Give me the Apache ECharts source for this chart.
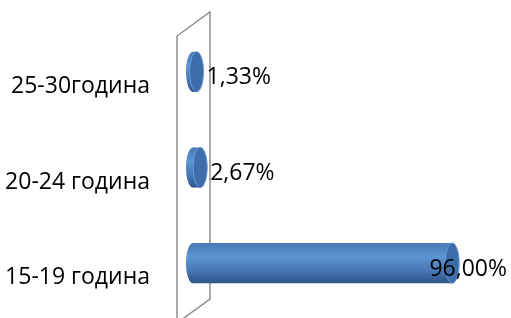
<!DOCTYPE html>
<html>
<head>
<meta charset="utf-8">
<script src="https://cdn.jsdelivr.net/npm/echarts@6/dist/echarts.min.js"></script>
<style>
    html, body { margin: 0; padding: 0; background: #fff; }
    #chart { width: 511px; height: 318px; }
</style>
</head>
<body>
<div id="chart"></div>
<script>
var categories = ['15-19 година', '20-24 година', '25-30година'];
var values = [96.00, 2.67, 1.33];

var FONT = '"Open Sans", "Liberation Sans", sans-serif';
var W = 511;

var measureCtx = document.createElement('canvas').getContext('2d');
function textWidth(str, size) {
    measureCtx.font = size + 'px ' + FONT;
    return measureCtx.measureText(str).width;
}

function fmt(v) {
    return v.toFixed(2).replace('.', ',') + '%';
}

//圆柱体
function renderItem(params, api) {
    var val = api.value(0);
    var cat = api.value(1);
    var p0 = api.coord([0, cat]);
    var p1 = api.coord([val, cat]);
    var h = api.size([0, 1])[1] * 0.42;
    var rx = 7, ry = h / 2;
    var cy = p0[1];

    var bodyFill = new echarts.graphic.LinearGradient(0, 0, 0, 1, [
        { offset: 0, color: '#4a79b6' },
        { offset: 0.35, color: '#5d94d4' },
        { offset: 0.7, color: '#4776b3' },
        { offset: 1, color: '#2c5385' }
    ]);

    var label = fmt(val);
    var tw = textWidth(label, 23);
    var lx = Math.min(p1[0] + rx + 3, W - tw - 4);

    return {
        type: 'group',
        children: [
            {
                type: 'ellipse',
                shape: { cx: p0[0], cy: cy, rx: rx, ry: ry },
                style: { fill: bodyFill }
            },
            {
                type: 'rect',
                shape: { x: p0[0], y: cy - ry, width: p1[0] - p0[0], height: h },
                style: { fill: bodyFill }
            },
            {
                type: 'ellipse',
                shape: { cx: p1[0], cy: cy, rx: rx, ry: ry },
                style: { fill: '#3e6dab', stroke: '#6b9bd6', lineWidth: 1 }
            },
            {
                type: 'text',
                x: lx,
                y: cy + 6,
                style: {
                    text: label,
                    font: '23px ' + FONT,
                    fill: '#000',
                    textAlign: 'left',
                    textVerticalAlign: 'middle'
                },
                z2: 10
            }
        ]
    };
}

var data = [];
for (var i = 0, len = values.length; i < len; i++) {
    data.push([values[i], i]);
}

var chart = echarts.init(document.getElementById('chart'));

var option = {
    animation: false,
    backgroundColor: '#fff',
    grid: { left: 193, right: 48, top: 24, bottom: 7 },
    xAxis: {
        type: 'value',
        min: 0,
        max: 100,
        show: false
    },
    yAxis: {
        type: 'category',
        data: categories,
        axisLine: { show: false },
        axisTick: { show: false },
        splitLine: { show: false },
        axisLabel: {
            margin: 43,
            fontSize: 23,
            fontFamily: FONT,
            color: '#000',
            verticalAlign: 'top',
            padding: [3, 0, 0, 0]
        }
    },
    series: [{
        type: 'custom',
        renderItem: renderItem,
        encode: { x: 0, y: 1 },
        data: data,
        z: 5
    }]
};
chart.setOption(option);

//背景墙
var x0 = chart.convertToPixel({ xAxisIndex: 0 }, 0);
chart.setOption({
    graphic: [{
        type: 'polygon',
        z: 0,
        shape: {
            points: [[x0 - 16, 36], [x0 + 17, 12], [x0 + 17, 299], [x0 - 16, 323]]
        },
        style: { fill: 'none', stroke: '#8f8f8f', lineWidth: 1.5 }
    }]
});
</script>
</body>
</html>
